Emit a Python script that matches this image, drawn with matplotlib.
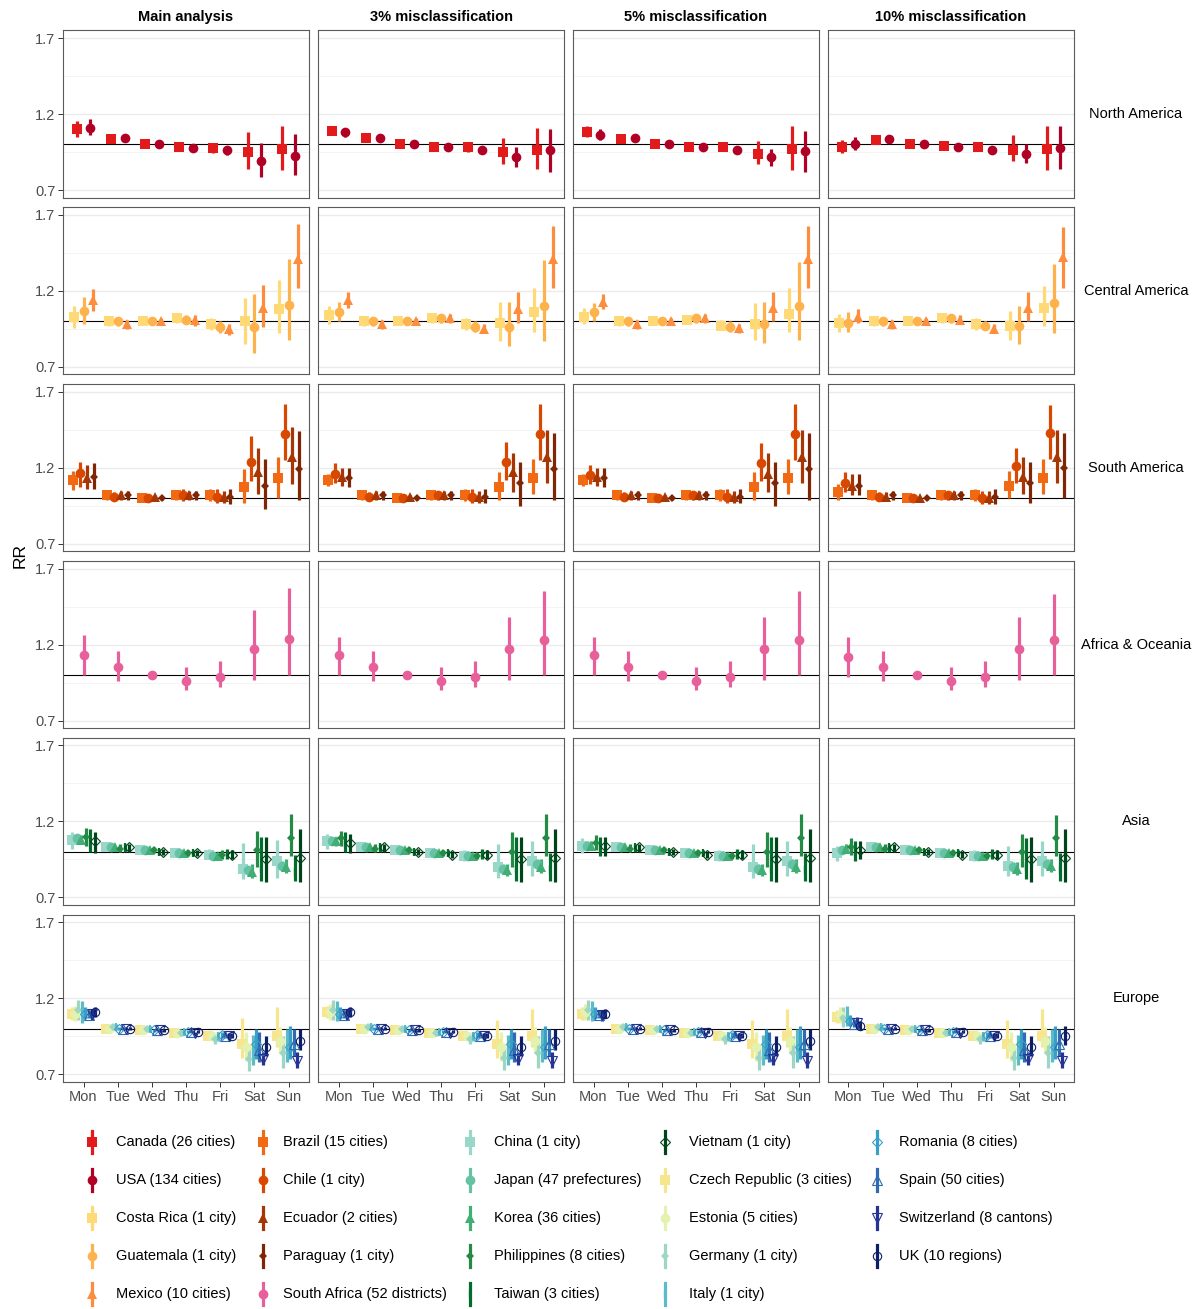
import numpy as np
import matplotlib
matplotlib.use('Agg')
from matplotlib import pyplot as plt

plt.rcParams['font.family'] = ['Liberation Sans', 'DejaVu Sans']

################################ Labels ################################
days = ['Mon', 'Tue', 'Wed', 'Thu', 'Fri', 'Sat', 'Sun']
analyses = ['Main analysis', '3% misclassification', '5% misclassification', '10% misclassification']
regions = ['North America', 'Central America', 'South America', 'Africa & Oceania', 'Asia', 'Europe']

################################ Data (RR, low, high) ##################
# each *_est / *_lo / *_hi : [analysis][country][day]

## North America
na_names = ['Canada (26 cities)', 'USA (134 cities)']
na_est = [
    [[1.10, 1.035, 1.00, 0.98, 0.975, 0.95, 0.97], [1.11, 1.04, 1.00, 0.975, 0.96, 0.89, 0.925]],
    [[1.09, 1.04, 1.00, 0.985, 0.98, 0.95, 0.965], [1.08, 1.04, 1.00, 0.98, 0.965, 0.915, 0.96]],
    [[1.08, 1.035, 1.00, 0.985, 0.98, 0.94, 0.97], [1.065, 1.04, 1.00, 0.98, 0.96, 0.915, 0.955]],
    [[0.985, 1.03, 1.00, 0.99, 0.98, 0.96, 0.97], [1.00, 1.035, 1.00, 0.985, 0.965, 0.94, 0.975]],
]
na_lo = [
    [[1.05, 1.025, 0.99, 0.97, 0.945, 0.84, 0.83], [1.06, 1.03, 0.99, 0.965, 0.93, 0.785, 0.80]],
    [[1.06, 1.03, 0.99, 0.975, 0.95, 0.87, 0.84], [1.05, 1.03, 0.99, 0.97, 0.95, 0.85, 0.82]],
    [[1.05, 1.025, 0.99, 0.975, 0.955, 0.87, 0.83], [1.03, 1.03, 0.99, 0.97, 0.945, 0.86, 0.82]],
    [[0.945, 1.02, 0.99, 0.98, 0.955, 0.89, 0.83], [0.96, 1.025, 0.99, 0.975, 0.945, 0.88, 0.84]],
]
na_hi = [
    [[1.155, 1.045, 1.01, 0.99, 1.01, 1.08, 1.12], [1.165, 1.05, 1.01, 0.985, 0.99, 1.01, 1.07]],
    [[1.12, 1.05, 1.01, 0.995, 1.01, 1.04, 1.11], [1.11, 1.05, 1.01, 0.99, 0.98, 0.98, 1.10]],
    [[1.12, 1.045, 1.01, 0.995, 1.005, 1.02, 1.12], [1.10, 1.05, 1.01, 0.99, 0.98, 0.97, 1.09]],
    [[1.03, 1.04, 1.01, 1.00, 1.01, 1.06, 1.12], [1.05, 1.045, 1.01, 0.995, 0.985, 1.00, 1.12]],
]

## Central America
ca_names = ['Costa Rica (1 city)', 'Guatemala (1 city)', 'Mexico (10 cities)']
ca_est = [
    [[1.025, 1.00, 1.00, 1.02, 0.98, 1.00, 1.08], [1.07, 1.00, 1.00, 1.01, 0.96, 0.965, 1.11], [1.14, 0.98, 1.005, 1.01, 0.95, 1.09, 1.41]],
    [[1.04, 1.00, 1.00, 1.02, 0.98, 0.99, 1.06], [1.06, 1.00, 1.00, 1.02, 0.96, 0.96, 1.10], [1.14, 0.98, 1.005, 1.02, 0.95, 1.08, 1.41]],
    [[1.03, 1.00, 1.00, 1.01, 0.97, 0.98, 1.05], [1.06, 1.00, 1.00, 1.02, 0.96, 0.98, 1.10], [1.13, 0.98, 1.005, 1.02, 0.955, 1.09, 1.41]],
    [[0.99, 1.00, 1.00, 1.02, 0.98, 0.97, 1.09], [0.99, 1.00, 1.00, 1.02, 0.97, 0.97, 1.12], [1.03, 0.98, 1.005, 1.01, 0.95, 1.09, 1.42]],
]
ca_lo = [
    [[0.955, 0.97, 0.99, 0.99, 0.94, 0.85, 0.92], [0.985, 0.97, 0.99, 0.98, 0.92, 0.79, 0.88], [1.065, 0.95, 0.99, 0.97, 0.91, 0.96, 1.22]],
    [[0.98, 0.97, 0.99, 0.99, 0.94, 0.87, 0.93], [1.00, 0.97, 0.99, 0.99, 0.93, 0.84, 0.87], [1.09, 0.95, 0.99, 0.99, 0.92, 0.99, 1.22]],
    [[0.98, 0.97, 0.99, 0.98, 0.94, 0.88, 0.93], [1.00, 0.97, 0.99, 0.99, 0.93, 0.86, 0.88], [1.08, 0.95, 0.99, 0.99, 0.92, 1.00, 1.22]],
    [[0.93, 0.97, 0.99, 0.99, 0.94, 0.88, 0.97], [0.93, 0.97, 0.99, 0.99, 0.94, 0.85, 0.92], [0.99, 0.95, 0.99, 0.98, 0.92, 1.00, 1.22]],
]
ca_hi = [
    [[1.10, 1.03, 1.01, 1.05, 1.02, 1.15, 1.27], [1.16, 1.03, 1.01, 1.04, 1.00, 1.18, 1.41], [1.21, 1.01, 1.02, 1.04, 0.98, 1.24, 1.64]],
    [[1.10, 1.03, 1.01, 1.05, 1.02, 1.13, 1.22], [1.13, 1.03, 1.01, 1.05, 1.00, 1.13, 1.40], [1.19, 1.01, 1.02, 1.05, 0.98, 1.19, 1.63]],
    [[1.09, 1.03, 1.01, 1.04, 1.01, 1.12, 1.22], [1.12, 1.03, 1.01, 1.05, 1.00, 1.13, 1.39], [1.18, 1.01, 1.02, 1.05, 0.985, 1.19, 1.63]],
    [[1.05, 1.03, 1.01, 1.05, 1.02, 1.07, 1.23], [1.06, 1.03, 1.01, 1.05, 1.00, 1.10, 1.38], [1.08, 1.01, 1.02, 1.04, 0.98, 1.19, 1.62]],
]

## South America
sa_names = ['Brazil (15 cities)', 'Chile (1 city)', 'Ecuador (2 cities)', 'Paraguay (1 city)']
sa_est = [
    [[1.12, 1.02, 1.00, 1.02, 1.02, 1.07, 1.13], [1.165, 1.01, 1.00, 1.02, 1.01, 1.24, 1.42],
     [1.135, 1.02, 1.01, 1.02, 1.01, 1.17, 1.27], [1.14, 1.02, 1.00, 1.02, 1.01, 1.08, 1.19]],
    [[1.12, 1.02, 1.00, 1.02, 1.02, 1.07, 1.13], [1.16, 1.01, 1.00, 1.02, 1.01, 1.24, 1.42],
     [1.14, 1.02, 1.01, 1.02, 1.01, 1.17, 1.27], [1.13, 1.02, 1.00, 1.02, 1.01, 1.10, 1.19]],
    [[1.12, 1.02, 1.00, 1.02, 1.02, 1.07, 1.13], [1.15, 1.01, 1.00, 1.02, 1.01, 1.23, 1.42],
     [1.14, 1.02, 1.01, 1.02, 1.01, 1.16, 1.27], [1.13, 1.02, 1.00, 1.02, 1.01, 1.10, 1.19]],
    [[1.04, 1.02, 1.00, 1.02, 1.02, 1.08, 1.13], [1.10, 1.01, 1.00, 1.02, 1.00, 1.21, 1.43],
     [1.08, 1.01, 1.00, 1.02, 1.00, 1.14, 1.27], [1.08, 1.02, 1.00, 1.02, 1.01, 1.10, 1.20]],
]
sa_lo = [
    [[1.055, 0.99, 0.99, 0.99, 0.98, 0.97, 1.00], [1.07, 0.98, 0.99, 0.98, 0.97, 1.11, 1.25],
     [1.06, 0.99, 1.00, 0.99, 0.97, 1.03, 1.09], [1.06, 0.99, 0.99, 0.99, 0.96, 0.93, 0.99]],
    [[1.08, 0.99, 0.99, 0.99, 0.98, 0.99, 1.03], [1.10, 0.98, 0.99, 0.99, 0.97, 1.12, 1.25],
     [1.08, 0.99, 1.00, 0.99, 0.97, 1.04, 1.10], [1.07, 0.99, 0.99, 0.99, 0.97, 0.95, 0.99]],
    [[1.08, 0.99, 0.99, 0.99, 0.98, 0.99, 1.03], [1.09, 0.98, 0.99, 0.99, 0.97, 1.11, 1.25],
     [1.08, 0.99, 1.00, 0.99, 0.97, 1.04, 1.10], [1.07, 0.99, 0.99, 0.99, 0.97, 0.95, 0.99]],
    [[0.99, 0.99, 0.99, 0.99, 0.98, 1.00, 1.03], [1.04, 0.98, 0.99, 0.99, 0.96, 1.10, 1.26],
     [1.02, 0.98, 0.99, 0.99, 0.96, 1.03, 1.10], [1.02, 0.99, 0.99, 0.99, 0.96, 0.97, 1.00]],
]
sa_hi = [
    [[1.18, 1.05, 1.01, 1.05, 1.06, 1.19, 1.27], [1.24, 1.04, 1.01, 1.06, 1.06, 1.41, 1.62],
     [1.22, 1.05, 1.02, 1.05, 1.05, 1.33, 1.47], [1.23, 1.05, 1.01, 1.05, 1.06, 1.26, 1.44]],
    [[1.16, 1.05, 1.01, 1.05, 1.06, 1.17, 1.26], [1.23, 1.04, 1.01, 1.05, 1.06, 1.37, 1.62],
     [1.20, 1.05, 1.02, 1.05, 1.05, 1.30, 1.45], [1.20, 1.05, 1.01, 1.05, 1.06, 1.24, 1.43]],
    [[1.16, 1.05, 1.01, 1.05, 1.06, 1.17, 1.26], [1.22, 1.04, 1.01, 1.05, 1.06, 1.36, 1.62],
     [1.20, 1.05, 1.02, 1.05, 1.05, 1.30, 1.45], [1.20, 1.05, 1.01, 1.05, 1.06, 1.24, 1.43]],
    [[1.09, 1.05, 1.01, 1.05, 1.06, 1.18, 1.26], [1.17, 1.04, 1.01, 1.05, 1.05, 1.33, 1.61],
     [1.16, 1.04, 1.01, 1.05, 1.05, 1.27, 1.45], [1.16, 1.05, 1.01, 1.05, 1.06, 1.24, 1.43]],
]

## Africa & Oceania
af_names = ['South Africa (52 districts)']
af_est = [
    [[1.13, 1.055, 1.00, 0.96, 0.99, 1.17, 1.24]],
    [[1.13, 1.055, 1.00, 0.96, 0.99, 1.17, 1.23]],
    [[1.13, 1.055, 1.00, 0.96, 0.99, 1.17, 1.23]],
    [[1.12, 1.055, 1.00, 0.96, 0.99, 1.17, 1.23]],
]
af_lo = [
    [[1.00, 0.96, 0.99, 0.90, 0.92, 0.97, 1.00]],
    [[1.00, 0.96, 0.99, 0.90, 0.92, 0.97, 1.00]],
    [[1.00, 0.96, 0.99, 0.90, 0.92, 0.97, 1.00]],
    [[0.99, 0.96, 0.99, 0.90, 0.92, 0.97, 1.00]],
]
af_hi = [
    [[1.265, 1.16, 1.01, 1.05, 1.09, 1.43, 1.57]],
    [[1.25, 1.16, 1.01, 1.05, 1.09, 1.38, 1.55]],
    [[1.25, 1.16, 1.01, 1.05, 1.09, 1.38, 1.55]],
    [[1.25, 1.16, 1.01, 1.05, 1.09, 1.38, 1.53]],
]

## Asia
as_names = ['China (1 city)', 'Japan (47 prefectures)', 'Korea (36 cities)', 'Philippines (8 cities)',
            'Taiwan (3 cities)', 'Vietnam (1 city)']
as_est = [
    [[1.08, 1.03, 1.01, 0.99, 0.98, 0.89, 0.94], [1.09, 1.03, 1.01, 0.99, 0.97, 0.88, 0.91],
     [1.08, 1.03, 1.01, 0.99, 0.97, 0.87, 0.90], [1.10, 1.02, 1.01, 0.99, 0.98, 1.01, 1.09],
     [1.06, 1.03, 1.00, 0.99, 0.98, 0.89, 0.87], [1.07, 1.03, 1.00, 0.99, 0.98, 0.95, 0.96]],
    [[1.07, 1.03, 1.01, 0.99, 0.97, 0.90, 0.94], [1.07, 1.03, 1.01, 0.99, 0.97, 0.89, 0.92],
     [1.07, 1.03, 1.01, 0.99, 0.97, 0.88, 0.90], [1.09, 1.02, 1.01, 0.99, 0.97, 1.00, 1.09],
     [1.06, 1.03, 1.00, 0.99, 0.98, 0.89, 0.88], [1.06, 1.03, 1.00, 0.98, 0.98, 0.95, 0.96]],
    [[1.04, 1.03, 1.01, 0.99, 0.97, 0.90, 0.94], [1.04, 1.03, 1.01, 0.99, 0.97, 0.89, 0.92],
     [1.04, 1.03, 1.01, 0.99, 0.97, 0.88, 0.90], [1.06, 1.02, 1.01, 0.99, 0.97, 1.00, 1.09],
     [1.03, 1.03, 1.00, 0.99, 0.98, 0.89, 0.88], [1.04, 1.03, 1.00, 0.98, 0.98, 0.95, 0.96]],
    [[0.99, 1.03, 1.01, 0.99, 0.97, 0.91, 0.94], [1.01, 1.03, 1.01, 0.99, 0.97, 0.90, 0.92],
     [1.02, 1.03, 1.01, 0.99, 0.97, 0.89, 0.91], [1.03, 1.02, 1.01, 0.99, 0.97, 1.00, 1.09],
     [1.00, 1.03, 1.00, 0.99, 0.98, 0.90, 0.88], [1.01, 1.03, 1.00, 0.98, 0.98, 0.95, 0.96]],
]
as_lo = [
    [[1.02, 1.01, 0.99, 0.97, 0.95, 0.82, 0.83], [1.06, 1.02, 1.00, 0.98, 0.96, 0.85, 0.88],
     [1.05, 1.02, 1.00, 0.98, 0.96, 0.83, 0.86], [1.04, 1.00, 0.99, 0.97, 0.95, 0.90, 0.97],
     [1.00, 1.00, 0.98, 0.97, 0.95, 0.81, 0.81], [0.99, 1.00, 0.98, 0.97, 0.95, 0.80, 0.80]],
    [[1.02, 1.01, 0.99, 0.97, 0.94, 0.83, 0.84], [1.05, 1.02, 1.00, 0.98, 0.96, 0.86, 0.89],
     [1.04, 1.02, 1.00, 0.98, 0.96, 0.84, 0.86], [1.04, 1.00, 0.99, 0.97, 0.95, 0.90, 0.97],
     [1.00, 1.00, 0.98, 0.97, 0.95, 0.81, 0.81], [0.99, 1.00, 0.98, 0.96, 0.95, 0.80, 0.80]],
    [[0.99, 1.01, 0.99, 0.97, 0.94, 0.83, 0.84], [1.02, 1.02, 1.00, 0.98, 0.96, 0.86, 0.89],
     [1.01, 1.02, 1.00, 0.98, 0.96, 0.84, 0.86], [1.01, 1.00, 0.99, 0.97, 0.95, 0.90, 0.97],
     [0.97, 1.00, 0.98, 0.97, 0.95, 0.81, 0.81], [0.97, 1.00, 0.98, 0.96, 0.95, 0.80, 0.80]],
    [[0.94, 1.01, 0.99, 0.97, 0.94, 0.84, 0.84], [0.99, 1.02, 1.00, 0.98, 0.96, 0.87, 0.89],
     [0.99, 1.02, 1.00, 0.98, 0.96, 0.85, 0.87], [0.98, 1.00, 0.99, 0.97, 0.95, 0.90, 0.97],
     [0.94, 1.00, 0.98, 0.97, 0.95, 0.82, 0.81], [0.95, 1.00, 0.98, 0.96, 0.95, 0.80, 0.80]],
]
as_hi = [
    [[1.13, 1.05, 1.03, 1.01, 1.02, 1.06, 1.08], [1.12, 1.04, 1.02, 1.00, 0.98, 0.91, 0.94],
     [1.11, 1.04, 1.02, 1.00, 0.99, 0.92, 0.95], [1.16, 1.05, 1.03, 1.01, 1.01, 1.14, 1.25],
     [1.15, 1.05, 1.02, 1.01, 1.02, 1.10, 0.98], [1.13, 1.05, 1.02, 1.01, 1.01, 1.10, 1.15]],
    [[1.12, 1.05, 1.03, 1.01, 1.01, 1.05, 1.07], [1.10, 1.04, 1.02, 1.00, 0.98, 0.92, 0.95],
     [1.10, 1.04, 1.02, 1.00, 0.99, 0.92, 0.95], [1.14, 1.05, 1.03, 1.01, 1.00, 1.13, 1.25],
     [1.13, 1.05, 1.02, 1.01, 1.02, 1.10, 0.99], [1.12, 1.05, 1.02, 1.00, 1.01, 1.10, 1.15]],
    [[1.09, 1.05, 1.03, 1.01, 1.01, 1.05, 1.07], [1.07, 1.04, 1.02, 1.00, 0.98, 0.92, 0.95],
     [1.07, 1.04, 1.02, 1.00, 0.99, 0.92, 0.95], [1.11, 1.05, 1.03, 1.01, 1.00, 1.13, 1.25],
     [1.10, 1.05, 1.02, 1.01, 1.02, 1.10, 0.99], [1.10, 1.05, 1.02, 1.00, 1.01, 1.10, 1.15]],
    [[1.04, 1.05, 1.03, 1.01, 1.01, 1.04, 1.07], [1.04, 1.04, 1.02, 1.00, 0.98, 0.93, 0.95],
     [1.05, 1.04, 1.02, 1.00, 0.99, 0.93, 0.95], [1.09, 1.05, 1.03, 1.01, 1.00, 1.12, 1.24],
     [1.07, 1.05, 1.02, 1.01, 1.02, 1.09, 0.99], [1.07, 1.05, 1.02, 1.00, 1.01, 1.10, 1.15]],
]

## Europe
eu_names = ['Czech Republic (3 cities)', 'Estonia (5 cities)', 'Germany (1 city)', 'Italy (1 city)',
            'Romania (8 cities)', 'Spain (50 cities)', 'Switzerland (8 cantons)', 'UK (10 regions)']
eu_est = [
    [[1.10, 1.00, 0.99, 0.97, 0.95, 0.90, 0.95], [1.10, 1.00, 0.99, 0.97, 0.95, 0.88, 0.92],
     [1.12, 1.01, 1.00, 0.97, 0.93, 0.80, 0.84], [1.11, 1.01, 1.00, 0.98, 0.95, 0.85, 0.88],
     [1.10, 1.00, 0.99, 0.98, 0.96, 0.90, 0.88], [1.09, 1.00, 0.99, 0.98, 0.955, 0.86, 0.90],
     [1.10, 1.00, 0.99, 0.97, 0.95, 0.80, 0.79], [1.11, 1.00, 0.99, 0.98, 0.955, 0.88, 0.92]],
    [[1.11, 1.00, 0.99, 0.97, 0.95, 0.90, 0.95], [1.11, 1.00, 0.99, 0.97, 0.95, 0.88, 0.92],
     [1.12, 1.01, 1.00, 0.97, 0.93, 0.81, 0.84], [1.11, 1.01, 1.00, 0.98, 0.95, 0.85, 0.88],
     [1.10, 1.00, 0.99, 0.98, 0.96, 0.90, 0.88], [1.09, 1.00, 0.99, 0.98, 0.955, 0.86, 0.90],
     [1.10, 1.00, 0.99, 0.97, 0.95, 0.80, 0.79], [1.11, 1.00, 0.99, 0.98, 0.955, 0.88, 0.92]],
    [[1.10, 1.00, 0.99, 0.97, 0.95, 0.90, 0.95], [1.11, 1.00, 0.99, 0.97, 0.95, 0.88, 0.92],
     [1.12, 1.01, 1.00, 0.97, 0.93, 0.81, 0.84], [1.11, 1.01, 1.00, 0.98, 0.95, 0.85, 0.88],
     [1.10, 1.00, 0.99, 0.98, 0.96, 0.90, 0.88], [1.09, 1.00, 0.99, 0.98, 0.955, 0.86, 0.90],
     [1.09, 1.00, 0.99, 0.97, 0.95, 0.80, 0.79], [1.10, 1.00, 0.99, 0.98, 0.955, 0.88, 0.92]],
    [[1.08, 1.00, 0.99, 0.97, 0.95, 0.90, 0.95], [1.09, 1.00, 0.99, 0.97, 0.95, 0.88, 0.92],
     [1.07, 1.01, 1.00, 0.97, 0.93, 0.81, 0.84], [1.08, 1.01, 1.00, 0.98, 0.95, 0.85, 0.88],
     [1.05, 1.00, 0.99, 0.98, 0.96, 0.90, 0.88], [1.03, 1.00, 0.99, 0.98, 0.955, 0.86, 0.90],
     [1.04, 1.00, 0.99, 0.97, 0.95, 0.80, 0.79], [1.02, 1.00, 0.99, 0.98, 0.955, 0.88, 0.95]],
]
eu_lo = [
    [[1.06, 0.99, 0.98, 0.96, 0.93, 0.81, 0.88], [1.05, 0.99, 0.98, 0.96, 0.93, 0.79, 0.84],
     [1.06, 0.99, 0.98, 0.95, 0.90, 0.72, 0.74], [1.04, 0.99, 0.98, 0.96, 0.92, 0.76, 0.78],
     [1.07, 0.99, 0.98, 0.97, 0.94, 0.80, 0.80], [1.07, 0.99, 0.985, 0.97, 0.94, 0.78, 0.82],
     [1.06, 0.99, 0.98, 0.96, 0.93, 0.76, 0.74], [1.08, 0.99, 0.98, 0.97, 0.94, 0.82, 0.86]],
    [[1.07, 0.99, 0.98, 0.96, 0.93, 0.81, 0.88], [1.06, 0.99, 0.98, 0.96, 0.93, 0.79, 0.84],
     [1.06, 0.99, 0.98, 0.95, 0.90, 0.73, 0.74], [1.05, 0.99, 0.98, 0.96, 0.92, 0.76, 0.78],
     [1.07, 0.99, 0.98, 0.97, 0.94, 0.80, 0.80], [1.07, 0.99, 0.985, 0.97, 0.94, 0.78, 0.82],
     [1.06, 0.99, 0.98, 0.96, 0.93, 0.76, 0.74], [1.08, 0.99, 0.98, 0.97, 0.94, 0.82, 0.86]],
    [[1.06, 0.99, 0.98, 0.96, 0.93, 0.81, 0.88], [1.06, 0.99, 0.98, 0.96, 0.93, 0.79, 0.84],
     [1.06, 0.99, 0.98, 0.95, 0.90, 0.73, 0.74], [1.05, 0.99, 0.98, 0.96, 0.92, 0.76, 0.78],
     [1.07, 0.99, 0.98, 0.97, 0.94, 0.80, 0.80], [1.07, 0.99, 0.985, 0.97, 0.94, 0.78, 0.82],
     [1.05, 0.99, 0.98, 0.96, 0.93, 0.76, 0.74], [1.07, 0.99, 0.98, 0.97, 0.94, 0.82, 0.86]],
    [[1.04, 0.99, 0.98, 0.96, 0.93, 0.81, 0.88], [1.04, 0.99, 0.98, 0.96, 0.93, 0.79, 0.84],
     [1.01, 0.99, 0.98, 0.95, 0.90, 0.73, 0.74], [1.02, 0.99, 0.98, 0.96, 0.92, 0.76, 0.78],
     [1.02, 0.99, 0.98, 0.97, 0.94, 0.80, 0.80], [1.01, 0.99, 0.985, 0.97, 0.94, 0.78, 0.82],
     [1.00, 0.99, 0.98, 0.96, 0.93, 0.76, 0.74], [0.99, 0.99, 0.98, 0.97, 0.94, 0.82, 0.89]],
]
eu_hi = [
    [[1.14, 1.01, 1.00, 0.98, 0.97, 1.07, 1.14], [1.15, 1.01, 1.00, 0.98, 0.97, 0.98, 1.01],
     [1.19, 1.03, 1.02, 0.99, 0.96, 0.90, 0.95], [1.18, 1.03, 1.02, 1.00, 0.98, 0.96, 1.00],
     [1.14, 1.01, 1.00, 0.99, 0.98, 1.00, 1.02], [1.12, 1.01, 0.995, 0.99, 0.97, 0.98, 1.00],
     [1.13, 1.01, 1.00, 0.98, 0.97, 0.85, 0.85], [1.14, 1.01, 1.00, 0.99, 0.97, 0.95, 1.00]],
    [[1.15, 1.01, 1.00, 0.98, 0.97, 1.06, 1.13], [1.16, 1.01, 1.00, 0.98, 0.97, 0.98, 1.01],
     [1.19, 1.03, 1.02, 0.99, 0.96, 0.90, 0.95], [1.18, 1.03, 1.02, 1.00, 0.98, 0.96, 1.00],
     [1.14, 1.01, 1.00, 0.99, 0.98, 1.00, 1.02], [1.12, 1.01, 0.995, 0.99, 0.97, 0.98, 1.00],
     [1.13, 1.01, 1.00, 0.98, 0.97, 0.85, 0.85], [1.14, 1.01, 1.00, 0.99, 0.97, 0.95, 1.00]],
    [[1.14, 1.01, 1.00, 0.98, 0.97, 1.06, 1.13], [1.16, 1.01, 1.00, 0.98, 0.97, 0.98, 1.01],
     [1.19, 1.03, 1.02, 0.99, 0.96, 0.90, 0.95], [1.18, 1.03, 1.02, 1.00, 0.98, 0.96, 1.00],
     [1.14, 1.01, 1.00, 0.99, 0.98, 1.00, 1.02], [1.12, 1.01, 0.995, 0.99, 0.97, 0.98, 1.00],
     [1.12, 1.01, 1.00, 0.98, 0.97, 0.85, 0.85], [1.13, 1.01, 1.00, 0.99, 0.97, 0.95, 1.00]],
    [[1.12, 1.01, 1.00, 0.98, 0.97, 1.06, 1.13], [1.14, 1.01, 1.00, 0.98, 0.97, 0.98, 1.01],
     [1.14, 1.03, 1.02, 0.99, 0.96, 0.90, 0.95], [1.15, 1.03, 1.02, 1.00, 0.98, 0.96, 1.00],
     [1.09, 1.01, 1.00, 0.99, 0.98, 1.00, 1.02], [1.06, 1.01, 0.995, 0.99, 0.97, 0.98, 1.00],
     [1.08, 1.01, 1.00, 0.98, 0.97, 0.85, 0.85], [1.05, 1.01, 1.00, 0.99, 0.97, 0.95, 1.02]],
]

################################ Styles ################################
na_col = ['#E31A1C', '#B10026']
ca_col = ['#FED976', '#FEB24C', '#FD8D3C']
sa_col = ['#F16913', '#D94801', '#A63603', '#7F2704']
af_col = ['#E7609B']
as_col = ['#99D8C9', '#66C2A4', '#41AE76', '#238B45', '#006D2C', '#00441B']
eu_col = ['#F8E68E', '#E3F2AE', '#9ED6C4', '#5BBCC8', '#3A9FC8', '#2E6BB0', '#253494', '#0C1F66']

# (marker, filled, size)
na_mk = [('s', True, 7), ('o', True, 7)]
ca_mk = [('s', True, 7), ('o', True, 7), ('^', True, 7.5)]
sa_mk = [('s', True, 7), ('o', True, 7), ('^', True, 7.5), ('D', True, 4.5)]
af_mk = [('o', True, 7)]
as_mk = [('s', True, 7), ('o', True, 7), ('^', True, 7.5), ('D', True, 4.5), ('|', True, 6), ('D', False, 5.5)]
eu_mk = [('s', True, 7), ('o', True, 7), ('D', True, 4.5), ('|', True, 6),
         ('D', False, 5.5), ('^', False, 6.5), ('v', False, 6.5), ('o', False, 6)]

region_data = [
    (na_names, na_est, na_lo, na_hi, na_col, na_mk),
    (ca_names, ca_est, ca_lo, ca_hi, ca_col, ca_mk),
    (sa_names, sa_est, sa_lo, sa_hi, sa_col, sa_mk),
    (af_names, af_est, af_lo, af_hi, af_col, af_mk),
    (as_names, as_est, as_lo, as_hi, as_col, as_mk),
    (eu_names, eu_est, eu_lo, eu_hi, eu_col, eu_mk),
]

################################ Layout (pixels) ########################
W, H = 1200, 1309
fig = plt.figure(figsize=(W / 100, H / 100), dpi=100)

col_left = [63, 318, 573, 828]
panel_w = 246
row_top = [30.4 + i * 176.86 for i in range(6)]
panel_h = 167.2
grey30 = '#4D4D4D'
dodge = 0.8

for r in range(6):
    names, est, lo, hi, cols, mks = region_data[r]
    n = len(names)
    for c in range(4):
        ax = fig.add_axes([col_left[c] / W, 1 - (row_top[r] + panel_h) / H, panel_w / W, panel_h / H])
        ax.set_xlim(-0.6, 6.6)
        ax.set_ylim(0.65, 1.75)
        for yy in [0.7, 1.2, 1.7]:
            ax.axhline(yy, color='#EBEBEB', lw=1.0, zorder=0)
        for yy in [0.95, 1.45]:
            ax.axhline(yy, color='#F2F2F2', lw=0.6, zorder=0)
        ax.axhline(1.0, color='black', lw=0.8, zorder=1)

        for k in range(n):
            x = np.arange(7) + (k - (n - 1) / 2) * dodge / n
            e = np.array(est[c][k])
            l = np.array(lo[c][k])
            h = np.array(hi[c][k])
            ax.vlines(x, l, h, color=cols[k], lw=2.3, zorder=2)
            m, filled, ms = mks[k]
            if filled:
                ax.plot(x, e, ls='none', marker=m, ms=ms, color=cols[k], mew=1.6 if m == '|' else 0, zorder=3)
            else:
                ax.plot(x, e, ls='none', marker=m, ms=ms, mfc='none', mec=cols[k], mew=0.8, zorder=3)

        for s in ax.spines.values():
            s.set_color('#5A5A5A')
            s.set_linewidth(0.8)
        ax.set_yticks([0.7, 1.2, 1.7])
        ax.set_xticks(range(7))
        ax.tick_params(color='#333333', length=3.5, width=0.7, labelsize=10.5, labelcolor=grey30, pad=2)
        if c == 0:
            ax.set_yticklabels(['0.7', '1.2', '1.7'])
        else:
            ax.tick_params(axis='y', length=0, labelleft=False)
        if r == 5:
            ax.set_xticklabels(days)
        else:
            ax.tick_params(axis='x', length=0, labelbottom=False)

        if r == 0:
            ax.set_title(analyses[c], fontsize=10.5, fontweight='bold', pad=7)

    # strip label on the right
    fig.text(1136 / W, 1 - (row_top[r] + panel_h / 2) / H, regions[r], ha='center', va='center', fontsize=10.5)

fig.text(20 / W, 1 - 556 / H, 'RR', rotation=90, ha='center', va='center', fontsize=12.5)

################################ Legend ################################
leg = fig.add_axes([0, 0, 1, 1])
leg.set_xlim(0, W)
leg.set_ylim(H, 0)
leg.axis('off')

all_names, all_cols, all_mks = [], [], []
for names, est, lo, hi, cols, mks in region_data:
    all_names += names
    all_cols += cols
    all_mks += mks

key_x = [92, 263, 470, 665, 877]
text_x = [116, 283, 494, 689, 899]
key_y = [1142, 1180, 1218, 1256, 1294]
for i in range(len(all_names)):
    cc, rr = i // 5, i % 5
    kx, ky = key_x[cc], key_y[rr]
    leg.plot([kx, kx], [ky - 11, ky + 11], color=all_cols[i], lw=2.3)
    m, filled, ms = all_mks[i]
    if filled:
        leg.plot([kx], [ky], marker=m, ms=ms, color=all_cols[i], mew=1.6 if m == '|' else 0, ls='none')
    else:
        leg.plot([kx], [ky], marker=m, ms=ms, mfc='none', mec=all_cols[i], mew=0.8, ls='none')
    leg.text(text_x[cc], ky, all_names[i], ha='left', va='center', fontsize=10.5)

fig.savefig('out.png', dpi=100)
